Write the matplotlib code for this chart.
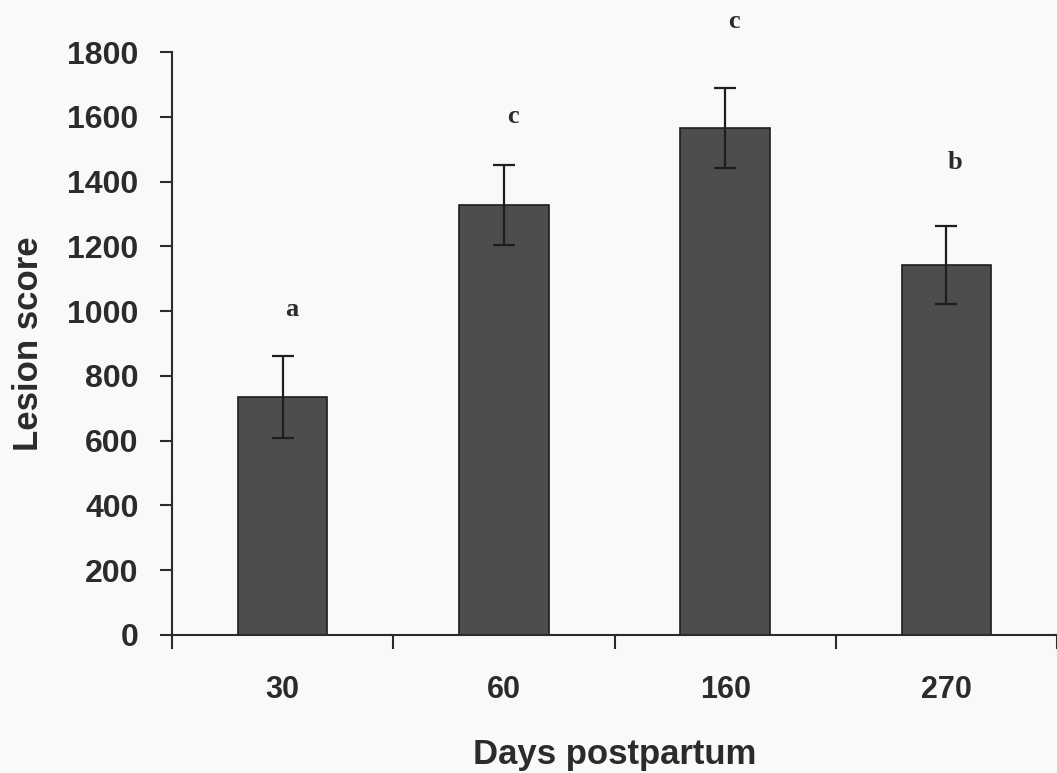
import matplotlib.pyplot as plt

# lesion score by days postpartum (mean and SE)
days = ['30', '60', '160', '270']
scores = [735, 1328, 1565, 1142]
errors = [126, 123, 123, 121]
letters = ['a', 'c', 'c', 'b']
letter_y = [1005, 1601, 1895, 1459]

bg = '#f7f9fb'
ink = '#2b2b2b'

fig = plt.figure(figsize=(10.57, 7.73), dpi=100, facecolor=bg)
ax = fig.add_axes([172 / 1057, 138 / 773, 885 / 1057, 583 / 773])
ax.set_facecolor(bg)

x = range(len(days))
ax.bar(x, scores, width=0.405, color='#4d4d50', edgecolor='#1e1e1e', linewidth=1.2, zorder=2)
ax.errorbar(x, scores, yerr=errors, fmt='none', ecolor='#1e1e1e', elinewidth=1.6,
            capsize=8, capthick=1.6, zorder=3)

for i, (lab, ly) in enumerate(zip(letters, letter_y)):
    ax.text(i + 0.04, ly, lab, ha='center', va='center', fontsize=19, fontweight='bold',
            family='Liberation Serif', color=ink, clip_on=False)

ax.set_xlim(-0.5, 3.5)
ax.set_ylim(0, 1800)
ax.set_yticks(range(0, 1801, 200))
ax.set_xticks(list(x))
ax.set_xticklabels(days)
ax.set_xticks([-0.5, 0.5, 1.5, 2.5, 3.5], minor=True)

for side in ['top', 'right']:
    ax.spines[side].set_visible(False)
for side in ['left', 'bottom']:
    ax.spines[side].set_linewidth(1.5)
    ax.spines[side].set_color(ink)

ax.tick_params(axis='y', direction='out', length=9, width=1.5, color=ink, pad=15,
               labelsize=23)
ax.tick_params(axis='x', which='major', length=0, pad=29, labelsize=22)
ax.tick_params(axis='x', which='minor', direction='out', length=10, width=1.5, color=ink)
for t in ax.get_xticklabels() + ax.get_yticklabels():
    t.set_fontweight('bold')
    t.set_family('Liberation Sans')
    t.set_color(ink)

ax.set_xlabel('Days postpartum', fontsize=25, fontweight='bold', family='Liberation Sans',
              color=ink)
ax.set_ylabel('Lesion score', fontsize=25, fontweight='bold', family='Liberation Sans',
              color=ink)
ax.xaxis.set_label_coords(0.5, -0.176)
ax.yaxis.set_label_coords(-0.143, 0.5)

fig.savefig('out.png', dpi=100, facecolor=bg)
